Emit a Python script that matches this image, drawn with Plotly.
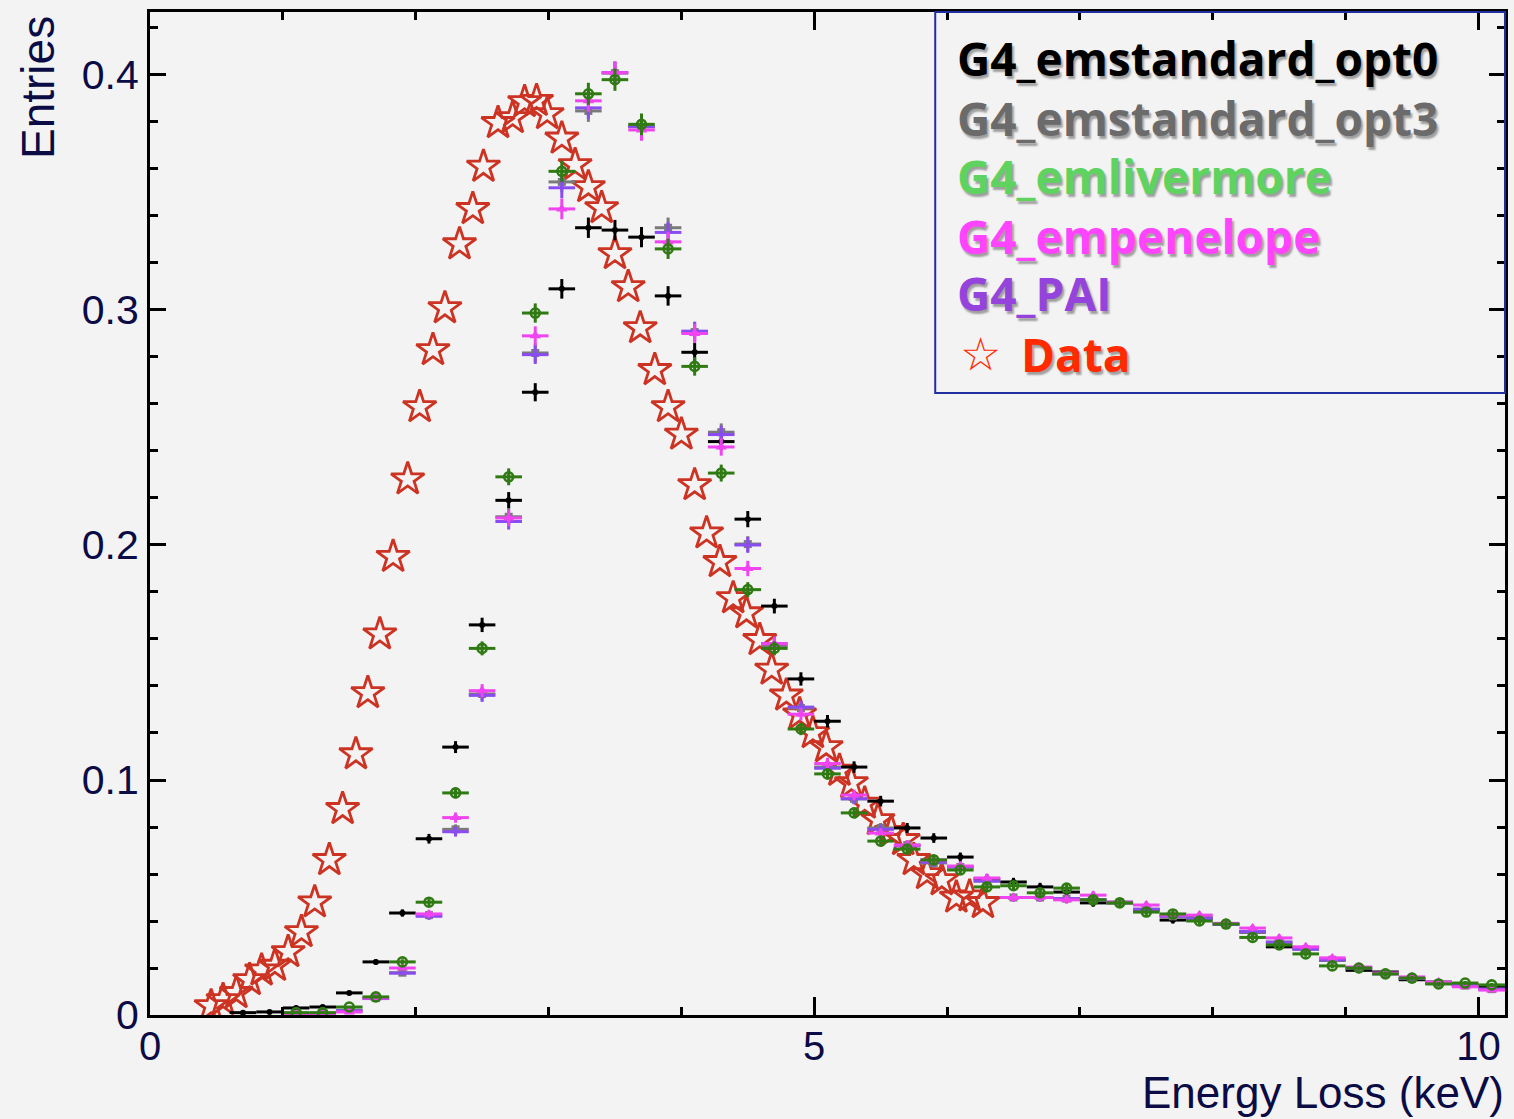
import math
import plotly.graph_objects as go

# ---------------- data ----------------
bin_centers = [0.7, 0.9, 1.1, 1.3, 1.5, 1.7, 1.9, 2.1, 2.3, 2.5,
               2.7, 2.9, 3.1, 3.3, 3.5, 3.7, 3.9, 4.1, 4.3, 4.5,
               4.7, 4.9, 5.1, 5.3, 5.5, 5.7, 5.9, 6.1, 6.3, 6.5,
               6.7, 6.9, 7.1, 7.3, 7.5, 7.7, 7.9, 8.1, 8.3, 8.5,
               8.7, 8.9, 9.1, 9.3, 9.5, 9.7, 9.9, 10.1]
bin_half_width = 0.1

opt0 = [0.001, 0.0013, 0.003, 0.0034, 0.0094, 0.0226, 0.0434, 0.075, 0.114, 0.166,
        0.219, 0.265, 0.309, 0.335, 0.334, 0.331, 0.306, 0.282, 0.244, 0.211,
        0.174, 0.143, 0.125, 0.1055, 0.091, 0.0796, 0.0753, 0.0672, 0.058, 0.0566,
        0.0545, 0.0523, 0.0477, 0.0477, 0.0447, 0.0404, 0.0413, 0.0387, 0.0353, 0.029,
        0.0285, 0.0234, 0.019, 0.0183, 0.015, 0.014, 0.0128, 0.012]

opt3 = [None, None, 0.0005, 0.0005, 0.0020, 0.0072, 0.018, 0.0425, 0.079, 0.1366,
        0.212, 0.2817, 0.3545, 0.3847, 0.4008, 0.378, 0.335, 0.2906, 0.248, 0.2004,
        0.157, 0.1306, 0.1055, 0.092, 0.0796, 0.0723, 0.0647, 0.063, 0.057, 0.050,
        0.050, 0.0495, 0.049, 0.048, 0.045, 0.042, 0.041, 0.0385, 0.0355, 0.031,
        0.028, 0.0235, 0.020, 0.0175, 0.0155, 0.0135, 0.0125, 0.011]

livermore = [None, None, 0.001, 0.001, 0.0034, 0.0077, 0.0226, 0.048, 0.0945, 0.156,
             0.229, 0.2987, 0.359, 0.392, 0.398, 0.379, 0.326, 0.276, 0.2306, 0.181,
             0.156, 0.1217, 0.1026, 0.086, 0.074, 0.0706, 0.066, 0.0617, 0.0545, 0.055,
             0.052, 0.054, 0.049, 0.0477, 0.0438, 0.043, 0.040, 0.0387, 0.033, 0.0298,
             0.026, 0.0209, 0.020, 0.0175, 0.0157, 0.0132, 0.0136, 0.0128]

penelope = [None, None, 0.0004, 0.0004, 0.0013, 0.0072, 0.020, 0.043, 0.084, 0.138,
            0.2115, 0.289, 0.343, 0.389, 0.401, 0.3766, 0.329, 0.290, 0.2417, 0.190,
            0.158, 0.128, 0.107, 0.0936, 0.0774, 0.0723, 0.066, 0.0634, 0.0583, 0.050,
            0.050, 0.049, 0.051, 0.048, 0.0468, 0.0425, 0.0425, 0.039, 0.037, 0.0328,
            0.029, 0.0243, 0.0204, 0.0179, 0.0162, 0.014, 0.012, 0.0106]

pai = [None, None, 0.0005, 0.0005, 0.0018, 0.0070, 0.0178, 0.042, 0.078, 0.136,
       0.210, 0.281, 0.352, 0.386, 0.401, 0.378, 0.333, 0.291, 0.247, 0.200,
       0.158, 0.131, 0.105, 0.092, 0.079, 0.072, 0.065, 0.063, 0.057, 0.050,
       0.050, 0.0495, 0.049, 0.048, 0.045, 0.042, 0.041, 0.0385, 0.0355, 0.031,
       0.028, 0.0235, 0.020, 0.0175, 0.0155, 0.0135, 0.0125, 0.011]

data_x = [0.46, 0.55, 0.65, 0.75, 0.84, 0.94, 1.04, 1.14, 1.24, 1.35,
          1.45, 1.55, 1.64, 1.73, 1.83, 1.94, 2.03, 2.13, 2.22, 2.33,
          2.43, 2.51, 2.62, 2.73, 2.82, 2.91, 2.99, 3.10, 3.20, 3.30,
          3.40, 3.50, 3.60, 3.69, 3.80, 3.90, 4.00, 4.10, 4.19, 4.29,
          4.39, 4.49, 4.59, 4.68, 4.79, 4.89, 4.99, 5.09, 5.19, 5.28,
          5.38, 5.48, 5.58, 5.67, 5.75, 5.85, 5.96, 6.07, 6.17, 6.27]
data_y = [0.0038, 0.0064, 0.0094, 0.0149, 0.019, 0.021, 0.0268, 0.0353, 0.048, 0.066,
          0.0877, 0.111, 0.137, 0.162, 0.195, 0.228, 0.2587, 0.283, 0.3008, 0.328,
          0.343, 0.361, 0.3796, 0.3817, 0.3885, 0.389, 0.3834, 0.373, 0.3617, 0.3523,
          0.3434, 0.3238, 0.3098, 0.2923, 0.2745, 0.2587, 0.247, 0.2255, 0.205, 0.1928,
          0.1774, 0.171, 0.1596, 0.147, 0.136, 0.128, 0.120, 0.114, 0.104, 0.0987,
          0.090, 0.083, 0.078, 0.0745, 0.066, 0.060, 0.0574, 0.050, 0.0505, 0.0477]

legend_labels = ["G4_emstandard_opt0", "G4_emstandard_opt3", "G4_emlivermore",
                 "G4_empenelope", "G4_PAI", "Data"]
legend_colors = ["#000000", "#6b6b6b", "#5fd35f", "#ff44ff", "#9444dc", "#ff2a00"]

x_ticks = [0, 5, 10]
y_ticks = [0, 0.1, 0.2, 0.3, 0.4]
x_range = [0, 10.2]
y_range = [0, 0.4268]

STAT = 0.0075  # relative statistical error scale


def stat_err(vals):
    return [STAT * math.sqrt(v) if v is not None else 0 for v in vals]


# ---------------- figure ----------------
fig = go.Figure()

fig.add_trace(go.Scatter(
    x=data_x, y=data_y, mode="markers", name="Data",
    marker=dict(symbol="star-open", size=25, color="#cc3322",
                line=dict(width=2.8, color="#cc3322")),
))

sim_series = [
    (opt0, "#000000", dict(symbol="circle", size=6, color="#000000")),
    (opt3, "#7a7a7a", dict(symbol="square", size=8, color="#7a7a7a")),
    (pai, "#8a4cf2", dict(symbol="circle", size=4, color="#8a4cf2")),
    (penelope, "#f044f0", dict(symbol="triangle-up", size=10, color="#f044f0")),
    (livermore, "#2f7a12", dict(symbol="circle-open", size=9, color="#2f7a12",
                                line=dict(width=2.6, color="#2f7a12"))),
]
for vals, col, mk in sim_series:
    fig.add_trace(go.Scatter(
        x=bin_centers, y=vals, mode="markers",
        marker=mk,
        error_x=dict(type="constant", value=bin_half_width, color=col, thickness=3, width=0),
        error_y=dict(type="data", array=stat_err(vals), color=col, thickness=3, width=0),
    ))

tick_font = dict(family="Liberation Sans, Arial, sans-serif", size=41, color="#0b0b45")
xtick_font = dict(family="Liberation Sans, Arial, sans-serif", size=40, color="#0b0b45")

fig.update_layout(
    width=1514, height=1119,
    margin=dict(l=150, r=6, t=12, b=104),
    paper_bgcolor="#f3f3f3", plot_bgcolor="#f3f3f3",
    showlegend=False,
    xaxis=dict(range=x_range, tickvals=x_ticks, ticktext=[str(v) for v in x_ticks],
               ticks="inside", ticklen=18, tickwidth=2.5, tickcolor="black",
               minor=dict(dtick=1, ticks="inside", ticklen=8, tickwidth=2.5, tickcolor="black"),
               showline=True, linewidth=3, linecolor="black", mirror="ticks",
               showgrid=False, zeroline=False, tickfont=xtick_font, ticklabelstandoff=-6),
    yaxis=dict(range=y_range, tickvals=y_ticks, ticktext=["0", "0.1", "0.2", "0.3", "0.4"],
               ticks="inside", ticklen=16, tickwidth=2.5, tickcolor="black",
               minor=dict(dtick=0.02, tick0=0, ticks="inside", ticklen=8, tickwidth=2.5, tickcolor="black"),
               showline=True, linewidth=3, linecolor="black", mirror="ticks",
               showgrid=False, zeroline=False, tickfont=tick_font),
)

# axis titles
fig.add_annotation(text="Energy Loss (keV)", xref="paper", yref="paper",
                   x=1.0, y=-0.0775, xanchor="right", yanchor="middle", showarrow=False,
                   borderpad=0,
                   font=dict(family="Liberation Sans, Arial, sans-serif", size=44, color="#0b0b45"))
fig.add_annotation(text="Entries", xref="paper", yref="paper", textangle=-90,
                   x=-0.083, y=0.998, xanchor="center", yanchor="top", showarrow=False,
                   font=dict(family="Liberation Sans Narrow, Liberation Sans, Arial, sans-serif",
                             size=46, color="#0b0b45"))

# legend box
fig.add_shape(type="rect", xref="paper", yref="paper", x0=0.5795, x1=1.0, y0=0.6201, y1=1.0,
              line=dict(color="#1f2fa0", width=2), fillcolor="rgba(0,0,0,0)", layer="above")

legend_y = [0.9541, 0.8943, 0.8365, 0.7767, 0.7198, 0.6590]
legend_x = 0.5943
shadow = "2px 3px 2px rgba(0,0,0,0.35)"
legend_font = "Open Sans, Roboto, sans-serif"
for lab, col, ly in zip(legend_labels, legend_colors, legend_y):
    if lab == "Data":
        fig.add_annotation(text="☆", xref="paper", yref="paper", x=legend_x + 0.002, y=ly,
                           xanchor="left", yanchor="middle", showarrow=False,
                           font=dict(family="DejaVu Sans", size=46, color=col))
        fig.add_annotation(text=lab, xref="paper", yref="paper", x=0.6413, y=ly,
                           xanchor="left", yanchor="middle", showarrow=False,
                           font=dict(family=legend_font, size=46, color=col,
                                     weight="bold", shadow=shadow))
    else:
        fig.add_annotation(text=lab, xref="paper", yref="paper", x=legend_x, y=ly,
                           xanchor="left", yanchor="middle", showarrow=False,
                           font=dict(family=legend_font, size=46, color=col,
                                     weight="bold", shadow=shadow))

fig.write_html("out.html")
